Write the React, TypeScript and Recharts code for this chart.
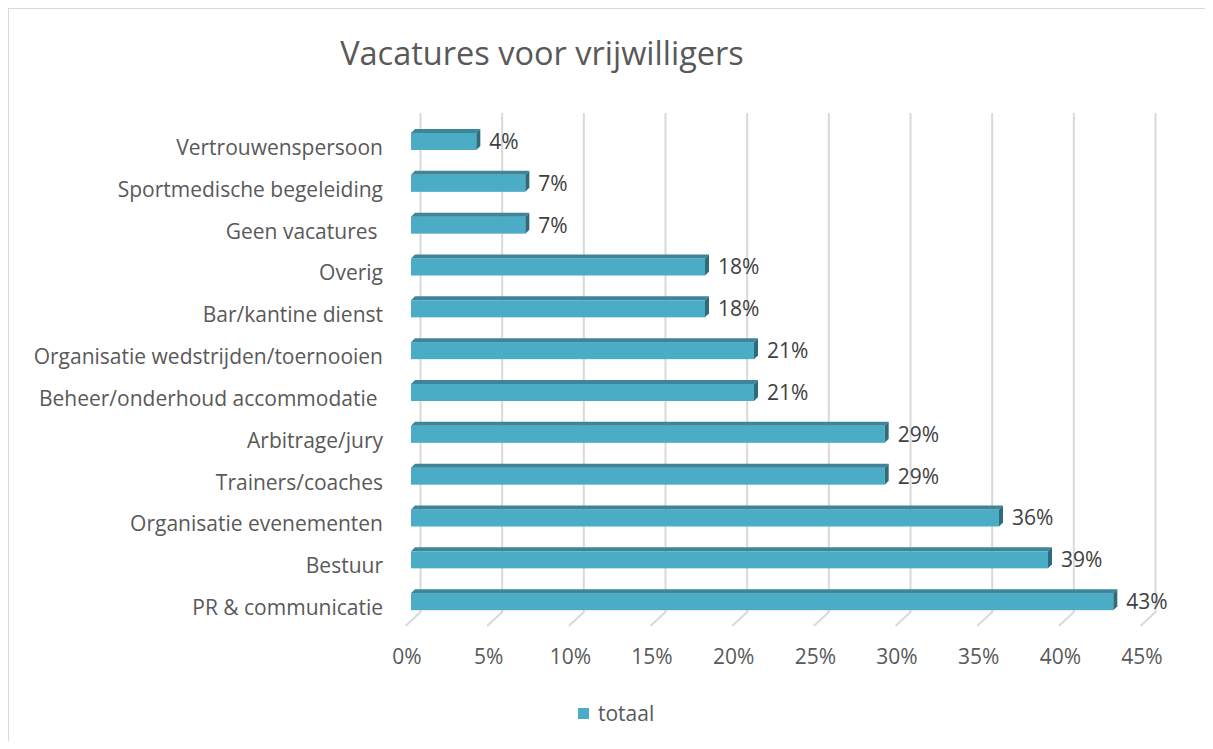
import React from 'react';
import { BarChart, Bar, XAxis, YAxis, CartesianGrid, LabelList } from 'recharts';

// Categories top to bottom, values in percent
const categories = [
    'Vertrouwenspersoon',
    'Sportmedische begeleiding',
    'Geen vacatures ',
    'Overig',
    'Bar/kantine dienst',
    'Organisatie wedstrijden/toernooien',
    'Beheer/onderhoud accommodatie ',
    'Arbitrage/jury',
    'Trainers/coaches',
    'Organisatie evenementen',
    'Bestuur',
    'PR & communicatie',
];
const totaal = [4, 7, 7, 18, 18, 21, 21, 29, 29, 36, 39, 43];
const xTicks = [0, 5, 10, 15, 20, 25, 30, 35, 40, 45];

const data = categories.map((name, i) => ({ name, totaal: totaal[i] }));

const FONT = '"Open Sans", sans-serif';
const TEXT = '#595959';
const FS = 21;

// 3D bar: front face, top face and right side
const Bar3D = (props: any) => {
    const { x, y, width, height } = props;
    const d = 4;
    if (width <= 0) return null;
    return (
        <g>
            <rect x={x} y={y} width={width} height={height} fill="#4bacc6" />
            <polygon
                points={`${x},${y} ${x + d},${y - d} ${x + width + d},${y - d} ${x + width},${y}`}
                fill="#3d8699"
            />
            <polygon
                points={`${x + width},${y} ${x + width + d},${y - d} ${x + width + d},${y + height - d} ${x + width},${y + height}`}
                fill="#2f6b7a"
            />
        </g>
    );
};

// gridline on the back wall, bending forward along the floor
const GridLine = (props: any) => {
    const { x1, y1, y2 } = props;
    return (
        <g key={props.key}>
            <polyline
                points={`${x1 + 9.5},${y1 - 8} ${x1 + 9.5},${y2 - 11} ${x1 - 5.5},${y2 + 3}`}
                fill="none"
                stroke="#d9d9d9"
                strokeWidth={2}
            />
        </g>
    );
};

const CategoryTick = (props: any) => {
    const { y, payload } = props;
    return (
        <text x={383} y={y + 13} textAnchor="end" fill={TEXT} fontSize={FS} fontFamily={FONT} style={{ whiteSpace: 'pre' }}>
            {payload.value}
        </text>
    );
};

const PercentTick = (props: any) => {
    const { x, payload } = props;
    return (
        <text x={x - 4} y={664} textAnchor="middle" fill={TEXT} fontSize={FS} fontFamily={FONT}>
            {`${payload.value}%`}
        </text>
    );
};

export default function App() {
    return (
        <div style={{ position: 'relative', width: 1213, height: 749, margin: -8, overflow: 'hidden', background: '#fff' }}>
            <div
                style={{
                    position: 'absolute', left: 7, top: 7, width: 1240, height: 780,
                    border: '2px solid #d9d9d9', boxSizing: 'border-box',
                }}
            />
            <div
                style={{
                    position: 'absolute', left: 0, width: 1084, top: 30, textAlign: 'center',
                    fontFamily: FONT, fontSize: 32.5, color: TEXT,
                }}
            >
                Vacatures voor vrijwilligers
            </div>
            <div style={{ position: 'absolute', left: 0, top: 0 }}>
                <BarChart
                    width={1213}
                    height={749}
                    data={data}
                    layout="vertical"
                    margin={{ top: 121, right: 67, bottom: 0, left: 0 }}
                    barCategoryGap={0}
                >
                    <CartesianGrid horizontal={false} vertical={GridLine} />
                    <XAxis
                        type="number"
                        domain={[0, 45]}
                        ticks={xTicks}
                        axisLine={false}
                        tickLine={false}
                        tick={PercentTick}
                        height={126}
                    />
                    <YAxis
                        type="category"
                        dataKey="name"
                        axisLine={false}
                        tickLine={false}
                        tick={CategoryTick}
                        width={411}
                    />
                    <Bar dataKey="totaal" barSize={17} shape={Bar3D} isAnimationActive={false}>
                        <LabelList
                            dataKey="totaal"
                            position="right"
                            offset={13}
                            formatter={(v: any) => `${v}%`}
                            fill="#404040"
                            fontSize={FS}
                            fontFamily={FONT}
                        />
                    </Bar>
                </BarChart>
            </div>
            <div
                style={{
                    position: 'absolute', left: 578, top: 699, display: 'flex', alignItems: 'center',
                    fontFamily: FONT, fontSize: FS, color: TEXT, lineHeight: '28px',
                }}
            >
                <span style={{ display: 'inline-block', width: 11, height: 11, background: '#4bacc6', marginRight: 9 }} />
                <span>totaal</span>
            </div>
        </div>
    );
}
